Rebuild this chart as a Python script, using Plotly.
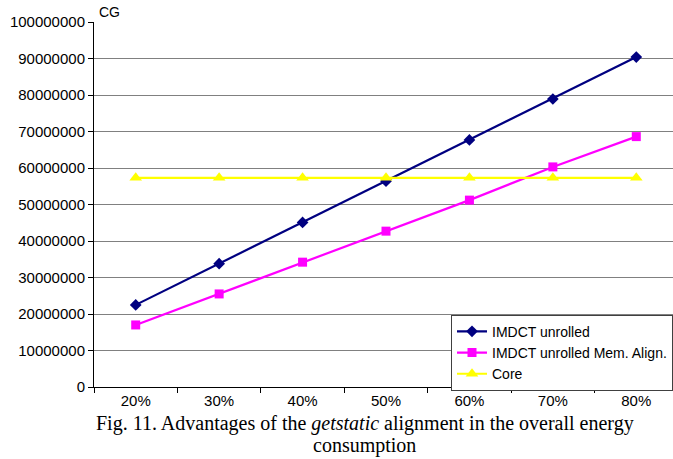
import plotly.graph_objects as go

categories = ["20%", "30%", "40%", "50%", "60%", "70%", "80%"]
imdct_unrolled = [22500000, 33800000, 45100000, 56400000, 67700000, 78900000, 90400000]
imdct_mem_align = [17000000, 25500000, 34200000, 42700000, 51200000, 60300000, 68600000]
core = [57300000, 57300000, 57300000, 57300000, 57300000, 57300000, 57300000]
y_ticks = list(range(0, 100000001, 10000000))

fig = go.Figure()
fig.add_trace(go.Scatter(
    x=categories, y=imdct_unrolled, name="IMDCT unrolled",
    mode="lines+markers",
    line=dict(color="#000080", width=2.2),
    marker=dict(symbol="diamond", size=9, color="#000080"),
))
fig.add_trace(go.Scatter(
    x=categories, y=imdct_mem_align, name="IMDCT unrolled Mem. Align.",
    mode="lines+markers",
    line=dict(color="#FF00FF", width=2.2),
    marker=dict(symbol="square", size=9, color="#FF00FF"),
))
fig.add_trace(go.Scatter(
    x=categories, y=core, name="Core",
    mode="lines+markers",
    line=dict(color="#FFFF00", width=2.2),
    marker=dict(symbol="triangle-up", size=11, color="#FFFF00"),
))

sans = "Liberation Sans, Arial, sans-serif"
serif = "Liberation Serif, Times New Roman, serif"
tick_font = dict(family=sans, size=15, color="#000000")

fig.update_layout(
    width=673, height=459,
    margin=dict(l=94, r=0, t=22, b=72),
    paper_bgcolor="white", plot_bgcolor="white",
    showlegend=True,
    legend=dict(
        x=1.0, y=0.198, xanchor="right", yanchor="top",
        bgcolor="white", bordercolor="#404040", borderwidth=1,
        font=dict(family=sans, size=14, color="#000000"),
        tracegroupgap=0, itemwidth=30,
    ),
    xaxis=dict(
        type="category",
        range=[-0.5, 6.44],
        tickson="boundaries",
        ticks="outside", ticklen=5, tickcolor="#000000",
        showline=True, linecolor="#000000", linewidth=1,
        showgrid=False, zeroline=False,
        tickfont=tick_font,
    ),
    yaxis=dict(
        range=[0, 100000000],
        tickvals=y_ticks,
        ticktext=[str(v) for v in y_ticks],
        ticks="outside", ticklen=5, tickcolor="#000000",
        showline=True, linecolor="#000000", linewidth=1,
        showgrid=True, gridcolor="#808080", gridwidth=1,
        zeroline=False,
        tickfont=tick_font,
    ),
    annotations=[
        dict(text="CG", xref="paper", yref="paper", x=0.005, y=1.0,
             xanchor="left", yanchor="bottom", showarrow=False,
             font=dict(family=sans, size=14, color="#000000")),
        dict(text="Fig. 11. Advantages of the <i>getstatic</i> alignment in the overall energy",
             xref="paper", yref="paper", x=0.468, y=-0.1364,
             xanchor="center", yanchor="bottom", showarrow=False,
             font=dict(family=serif, size=20, color="#000000")),
        dict(text="consumption",
             xref="paper", yref="paper", x=0.468, y=-0.1967,
             xanchor="center", yanchor="bottom", showarrow=False,
             font=dict(family=serif, size=20, color="#000000")),
    ],
)

fig.write_html("out.html")
